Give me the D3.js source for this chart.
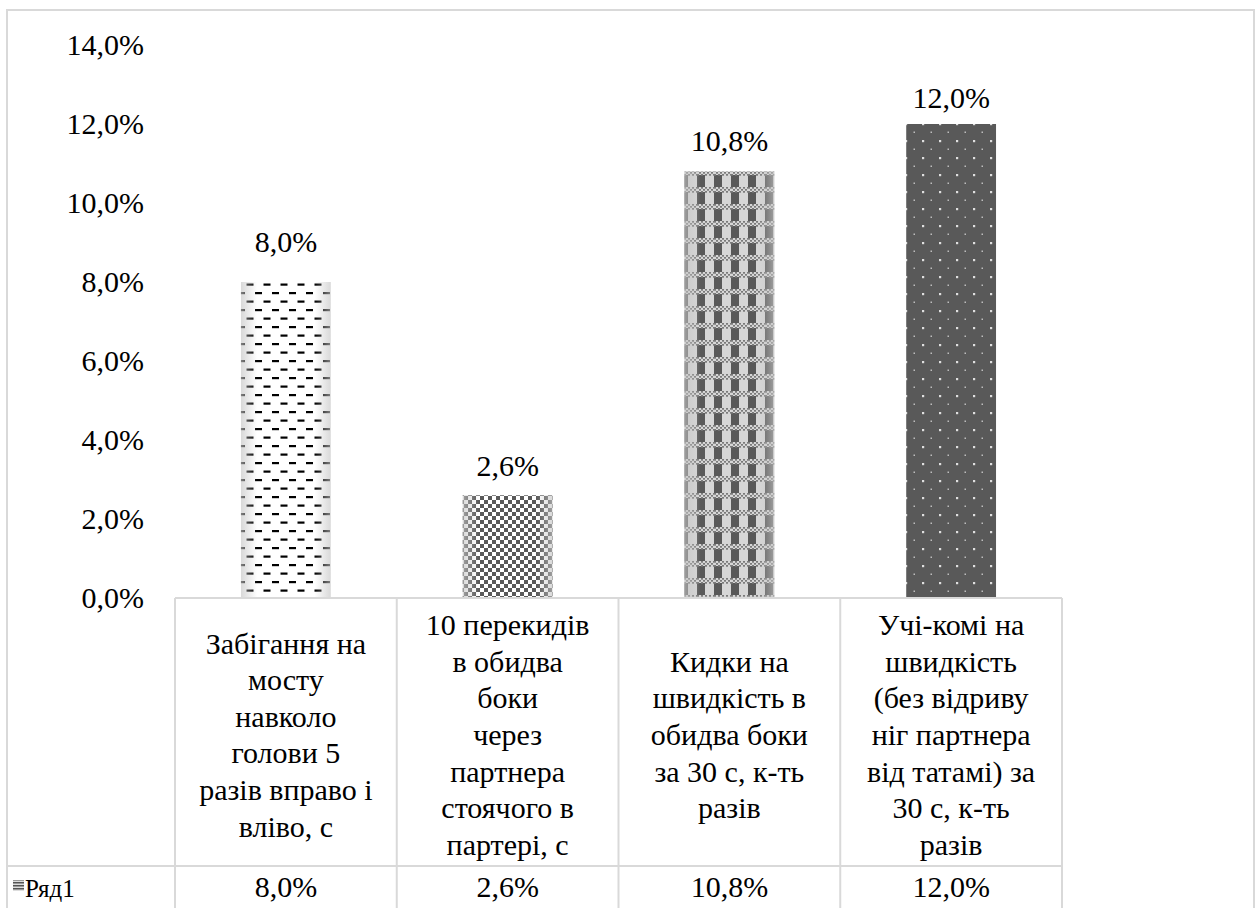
<!DOCTYPE html>
<html>
<head>
<meta charset="utf-8">
<script src="https://cdn.jsdelivr.net/npm/d3@7"></script>
<style>
  html, body { margin: 0; padding: 0; background: #fff; }
  svg { display: block; }
</style>
</head>
<body>
<svg id="chart" width="1260" height="908" font-family="Liberation Serif"></svg>
<script>
// ---- data ----
const categories = [
  "Забігання на мосту навколо голови 5 разів вправо і вліво, с",
  "10 перекидів в обидва боки через партнера стоячого в партері, с",
  "Кидки на швидкість в обидва боки за 30 с, к-ть разів",
  "Учі-комі на швидкість (без відриву ніг партнера від татамі) за 30 с, к-ть разів"
];
const categoryLines = [
  ["Забігання на", "мосту", "навколо", "голови 5", "разів вправо і", "вліво, с"],
  ["10 перекидів", "в обидва", "боки", "через", "партнера", "стоячого в", "партері, с"],
  ["Кидки на", "швидкість в", "обидва боки", "за 30 с, к-ть", "разів"],
  ["Учі-комі на", "швидкість", "(без відриву", "ніг партнера", "від татамі) за", "30 с, к-ть", "разів"]
];
const values = [0.080, 0.026, 0.108, 0.120];
const seriesName = "Ряд1";
const yTicks = [0, 0.02, 0.04, 0.06, 0.08, 0.10, 0.12, 0.14];
const patternIds = ["pDash", "pCheck", "pPlaid", "pDots"];

// ---- layout ----
const FONT = "Liberation Serif";
const FS = 30;
const LINE = 36.6;
const grid = "#d9d9d9";
const dark = "#595959";
const labelGap = [30, 19, 20, 16];   // data label baseline above bar top

const svg = d3.select("#chart");
const locale = d3.formatLocale({ decimal: ",", thousands: " ", grouping: [3], currency: ["", ""] });
const pct = locale.format(".1%");

const x = d3.scaleBand().domain(categories).range([175, 1062]).padding(0);
const y = d3.scaleLinear().domain([0, 0.14]).range([598, 45]);
const barW = x.bandwidth() * 0.405;

function label(sel) {
  return sel.attr("font-family", FONT).attr("font-size", FS).attr("fill", "#000");
}

// ---- patterns ----
const defs = svg.append("defs");

const p1 = defs.append("pattern").attr("id", "pDash").attr("patternUnits", "userSpaceOnUse")
  .attr("width", 17).attr("height", 17);
p1.append("rect").attr("width", 17).attr("height", 17).attr("fill", "#fff");
p1.append("rect").attr("x", 0).attr("y", 3).attr("width", 7).attr("height", 2.2).attr("fill", "#000");
p1.append("rect").attr("x", 8.5).attr("y", 11.5).attr("width", 7).attr("height", 2.2).attr("fill", "#000");

const p2 = defs.append("pattern").attr("id", "pCheck").attr("patternUnits", "userSpaceOnUse")
  .attr("width", 8).attr("height", 8);
p2.append("rect").attr("width", 8).attr("height", 8).attr("fill", "#fff");
p2.append("rect").attr("width", 4).attr("height", 4).attr("fill", dark);
p2.append("rect").attr("x", 4).attr("y", 4).attr("width", 4).attr("height", 4).attr("fill", dark);

const p3 = defs.append("pattern").attr("id", "pPlaid").attr("patternUnits", "userSpaceOnUse")
  .attr("width", 17).attr("height", 17);
p3.append("rect").attr("width", 17).attr("height", 17).attr("fill", "#d6d6d6");
p3.append("rect").attr("x", 0).attr("width", 8).attr("height", 17).attr("fill", dark);
p3.append("rect").attr("y", 0).attr("width", 17).attr("height", 5).attr("fill", "#d6d6d6");
for (let i = 0; i < 9; i++) {
  for (let j = 0; j < 3; j++) {
    if ((i + j) % 2 === 0) {
      p3.append("rect").attr("x", i * 2).attr("y", j * 2).attr("width", 2).attr("height", 1.7).attr("fill", "#7a7a7a");
    }
  }
}

const p4 = defs.append("pattern").attr("id", "pDots").attr("patternUnits", "userSpaceOnUse")
  .attr("width", 17).attr("height", 17);
p4.append("rect").attr("width", 17).attr("height", 17).attr("fill", dark);
p4.append("rect").attr("x", 4).attr("y", 4).attr("width", 2.2).attr("height", 2.2).attr("fill", "#e0e0e0");
p4.append("rect").attr("x", 12.5).attr("y", 12.5).attr("width", 1.5).attr("height", 1.5).attr("fill", "#bdbdbd");

const shade = defs.append("linearGradient").attr("id", "edgeShade")
  .attr("x1", "0%").attr("x2", "100%").attr("y1", "0%").attr("y2", "0%");
[[0, 0.65], [0.18, 0], [0.82, 0], [1, 0.65]].forEach(([o, a]) =>
  shade.append("stop").attr("offset", o).attr("stop-color", "#c4c4c4").attr("stop-opacity", a));

const legendPat = defs.append("pattern").attr("id", "pLegend").attr("patternUnits", "userSpaceOnUse")
  .attr("width", 4).attr("height", 3);
legendPat.append("rect").attr("width", 4).attr("height", 3).attr("fill", "#ddd");
legendPat.append("rect").attr("width", 4).attr("height", 1.5).attr("fill", "#555");

// ---- outer border ----
svg.append("rect").attr("x", 7).attr("y", 10).attr("width", 1247).attr("height", 940)
  .attr("fill", "none").attr("stroke", grid).attr("stroke-width", 2);

// ---- y axis ----
const yAxis = svg.append("g").attr("transform", "translate(144,0)")
  .call(d3.axisLeft(y).tickValues(yTicks).tickFormat(pct).tickSize(0).tickPadding(0));
yAxis.select(".domain").remove();
yAxis.attr("font-family", FONT).attr("font-size", FS);
label(yAxis.selectAll("text"));

// ---- bars ----
const bars = svg.append("g");
categories.forEach((c, i) => {
  const bx = x(c) + (x.bandwidth() - barW) / 2;
  bars.append("rect").attr("x", bx).attr("y", y(values[i]))
    .attr("width", barW).attr("height", y(0) - y(values[i]))
    .attr("fill", `url(#${patternIds[i]})`);
  if (i < 3) {
    bars.append("rect").attr("x", bx).attr("y", y(values[i]))
      .attr("width", barW).attr("height", y(0) - y(values[i]))
      .attr("fill", "url(#edgeShade)");
  }
  label(svg.append("text")).attr("x", x(c) + x.bandwidth() / 2).attr("y", y(values[i]) - labelGap[i])
    .attr("text-anchor", "middle").text(pct(values[i]));
});

// ---- data table ----
const tbl = svg.append("g").attr("stroke", grid).attr("stroke-width", 2);
tbl.append("line").attr("x1", x.range()[0]).attr("x2", x.range()[1]).attr("y1", 598).attr("y2", 598);
tbl.append("line").attr("x1", 7).attr("x2", x.range()[1]).attr("y1", 866).attr("y2", 866);
categories.concat([null]).forEach((c) => {
  const lx = c ? x(c) : x.range()[1];
  tbl.append("line").attr("x1", lx).attr("x2", lx).attr("y1", 598).attr("y2", 908);
});

categories.forEach((c, i) => {
  const lines = categoryLines[i];
  const cx = x(c) + x.bandwidth() / 2;
  const mid = 735;
  const first = mid - (lines.length - 1) * LINE / 2;
  const t = label(svg.append("text")).attr("text-anchor", "middle");
  lines.forEach((ln, k) => {
    t.append("tspan").attr("x", cx).attr("y", first + k * LINE + 10).text(ln);
  });
  label(svg.append("text")).attr("x", cx).attr("y", 897).attr("text-anchor", "middle")
    .text(pct(values[i]));
});

// legend cell
svg.append("rect").attr("x", 13).attr("y", 880).attr("width", 11).attr("height", 11)
  .attr("fill", "url(#pLegend)");
label(svg.append("text")).attr("x", 25).attr("y", 897).attr("font-size", 25).text(seriesName);
</script>
</body>
</html>
